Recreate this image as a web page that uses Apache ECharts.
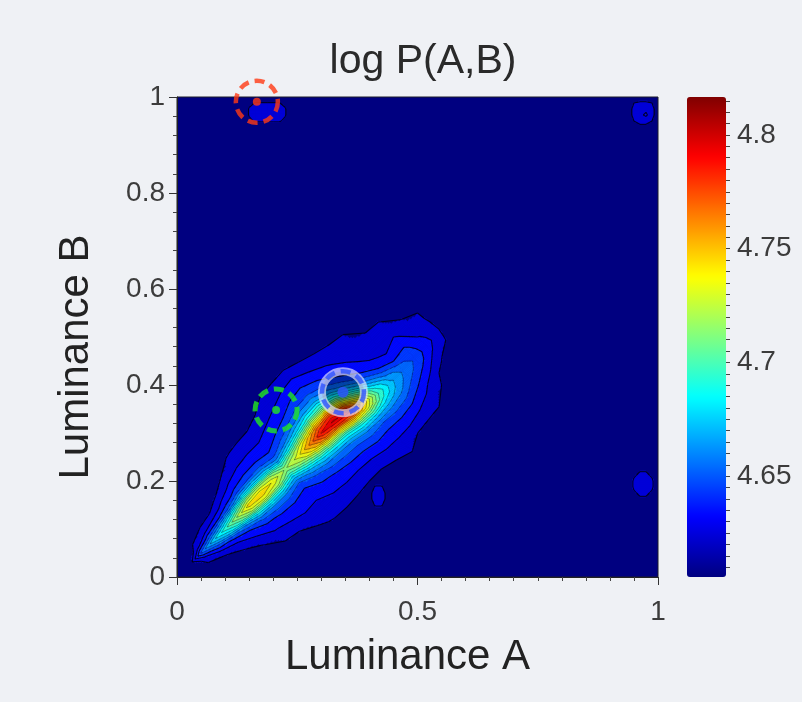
<!DOCTYPE html>
<html>
<head>
<meta charset="utf-8">
<title>log P(A,B)</title>
<script src="https://cdn.jsdelivr.net/npm/echarts@6/dist/echarts.min.js"></script>
<style>
  html, body { margin: 0; padding: 0; background: #eff1f5; }
  #chart { width: 802px; height: 702px; }
</style>
</head>
<body>
<div id="chart"></div>
<script>
// Joint log-density of luminance A and luminance B.
// The main ridge is sampled on a lattice that follows the diagonal:
// a = A + B runs along the ridge, d = B - A runs across it.
const FLOOR = 4.606;

// positions along the ridge (a = A + B)
const ridgeA = [0.05, 0.1, 0.15, 0.2, 0.25, 0.3, 0.35, 0.4, 0.45, 0.5, 0.55,
                0.6, 0.65, 0.7, 0.75, 0.8, 0.85, 0.9, 0.95, 1.0, 1.05, 1.1];
// offset of the ridge crest from the diagonal (in d) at each position
const ridgeOffset = [0, 0, 0, 0, 0, 0, 0, 0, 0, 0, 0,
                     0, 0, -0.01, -0.025, -0.035, -0.04, -0.04, -0.04, -0.04, -0.03, -0.02];
// offsets across the ridge, measured from the crest
const acrossD = [-0.3, -0.25, -0.2, -0.15, -0.11, -0.08, -0.055, -0.035, -0.018, 0,
                 0.018, 0.035, 0.055, 0.08, 0.11, 0.15, 0.2, 0.25, 0.3];
const F = FLOOR;
// log P at each (ridgeA[i], acrossD[j])
const ridgeProfiles = [
  [F,F,F,F,F,F,F,F,4.608,4.613,4.608,F,F,F,F,F,F,F,F],
  [F,F,F,F,F,F,F,4.626,4.632,4.655,4.630,4.624,F,F,F,F,F,F,F],
  [F,F,F,F,F,F,4.626,4.636,4.655,4.680,4.650,4.633,4.624,F,F,F,F,F,F],
  [F,F,F,F,F,4.627,4.634,4.648,4.678,4.700,4.670,4.642,4.629,4.616,F,F,F,F,F],
  [F,F,F,F,4.627,4.634,4.644,4.665,4.702,4.725,4.694,4.656,4.638,4.629,4.612,F,F,F,F],
  [F,F,F,4.624,4.633,4.642,4.657,4.688,4.728,4.750,4.720,4.678,4.649,4.636,4.628,F,F,F,F],
  [F,F,F,4.628,4.636,4.646,4.663,4.697,4.735,4.754,4.728,4.686,4.655,4.641,4.632,4.623,F,F,F],
  [F,F,4.621,4.631,4.638,4.647,4.664,4.694,4.727,4.742,4.722,4.682,4.656,4.642,4.634,4.626,F,F,F],
  [F,F,4.626,4.631,4.637,4.644,4.655,4.678,4.704,4.722,4.698,4.667,4.649,4.640,4.634,4.627,4.608,F,F],
  [F,4.608,4.627,4.634,4.642,4.652,4.671,4.700,4.724,4.738,4.721,4.690,4.663,4.648,4.638,4.630,4.618,F,F],
  [F,F,4.626,4.635,4.645,4.660,4.685,4.718,4.749,4.765,4.748,4.717,4.682,4.658,4.644,4.634,4.625,F,F],
  [F,F,4.624,4.635,4.648,4.663,4.692,4.734,4.774,4.795,4.776,4.742,4.700,4.670,4.651,4.638,4.627,F,F],
  [F,F,4.624,4.636,4.649,4.666,4.697,4.741,4.784,4.806,4.786,4.750,4.706,4.673,4.653,4.640,4.628,4.608,F],
  [F,F,4.625,4.636,4.649,4.666,4.697,4.740,4.779,4.800,4.780,4.742,4.700,4.669,4.650,4.637,4.626,F,F],
  [F,F,4.625,4.633,4.643,4.655,4.678,4.710,4.739,4.755,4.741,4.713,4.682,4.658,4.644,4.635,4.626,F,F],
  [F,F,4.611,4.630,4.640,4.652,4.666,4.682,4.697,4.705,4.696,4.679,4.660,4.645,4.637,4.631,4.625,F,F],
  [F,F,F,4.626,4.636,4.647,4.658,4.668,4.674,4.677,4.671,4.658,4.645,4.636,4.631,4.627,4.624,F,F],
  [F,F,F,4.624,4.631,4.638,4.647,4.654,4.659,4.662,4.657,4.646,4.637,4.632,4.628,4.626,4.611,F,F],
  [F,F,F,F,4.624,4.629,4.636,4.643,4.649,4.652,4.650,4.647,4.642,4.636,4.630,4.625,F,F,F],
  [F,F,F,F,F,4.616,4.626,4.630,4.635,4.638,4.637,4.635,4.631,4.628,4.625,F,F,F,F],
  [F,F,F,F,F,F,4.612,4.625,4.627,4.629,4.628,4.627,4.625,4.624,F,F,F,F,F],
  [F,F,F,F,F,F,F,F,F,F,F,F,F,F,F,F,F,F,F]
];

// small outlying islands, on a square lattice of step 0.0125: [A, B, log P]
const ISLAND_STEP = 0.0125;
const islandNodes = [
  // island under the red marker
  [0.1625, 0.9625, 4.632], [0.175, 0.9625, 4.632], [0.1875, 0.9625, 4.632], [0.2, 0.9625, 4.632], [0.2125, 0.9625, 4.632],
  [0.1625, 0.975, 4.632], [0.175, 0.975, 4.632], [0.1875, 0.975, 4.632], [0.2, 0.975, 4.632], [0.2125, 0.975, 4.632],
  [0.15, 0.9625, 4.626], [0.15, 0.975, 4.626], [0.225, 0.9625, 4.626], [0.225, 0.975, 4.626],
  [0.1625, 0.95, 4.627], [0.175, 0.95, 4.627], [0.1875, 0.95, 4.627], [0.2, 0.95, 4.627], [0.2125, 0.95, 4.627],
  [0.1625, 0.9875, 4.625], [0.175, 0.9875, 4.625], [0.1875, 0.9875, 4.625], [0.2, 0.9875, 4.625], [0.2125, 0.9875, 4.625],
  [0.15, 0.95, 4.618], [0.225, 0.95, 4.618], [0.15, 0.9875, 4.618], [0.225, 0.9875, 4.618],
  // top-right corner island
  [0.9625, 0.9625, 4.632], [0.975, 0.9625, 4.6356], [0.9625, 0.975, 4.632], [0.975, 0.975, 4.632],
  [0.95, 0.9625, 4.629], [0.95, 0.975, 4.629], [0.9875, 0.9625, 4.629], [0.9875, 0.975, 4.629],
  [0.9625, 0.95, 4.629], [0.975, 0.95, 4.629], [0.9625, 0.9875, 4.629], [0.975, 0.9875, 4.629],
  [0.95, 0.95, 4.624], [0.9875, 0.95, 4.624], [0.95, 0.9875, 4.624], [0.9875, 0.9875, 4.624],
  [0.9625, 0.9375, 4.620], [0.975, 0.9375, 4.620], [0.9375, 0.9625, 4.615], [0.9375, 0.975, 4.615],
  [1.0, 0.9625, 4.615], [1.0, 0.975, 4.615],
  // right-edge island
  [0.9625, 0.1875, 4.632], [0.975, 0.1875, 4.632], [0.9625, 0.2, 4.632], [0.975, 0.2, 4.632],
  [0.95, 0.1875, 4.628], [0.95, 0.2, 4.628], [0.9875, 0.1875, 4.628], [0.9875, 0.2, 4.628],
  [0.9625, 0.175, 4.629], [0.975, 0.175, 4.629], [0.9625, 0.2125, 4.629], [0.975, 0.2125, 4.629],
  [0.95, 0.175, 4.620], [0.9875, 0.175, 4.620], [0.95, 0.2125, 4.620], [0.9875, 0.2125, 4.620],
  [0.9625, 0.1625, 4.620], [0.975, 0.1625, 4.620], [0.9625, 0.225, 4.620], [0.975, 0.225, 4.620],
  // island beside the ridge
  [0.4125, 0.1625, 4.633], [0.425, 0.1625, 4.633], [0.4125, 0.175, 4.633], [0.425, 0.175, 4.633],
  [0.4125, 0.15, 4.628], [0.425, 0.15, 4.628], [0.4125, 0.1875, 4.628], [0.425, 0.1875, 4.628],
  [0.4, 0.1625, 4.618], [0.4, 0.175, 4.618], [0.4375, 0.1625, 4.618], [0.4375, 0.175, 4.618]
];

const colorMin = 4.6057;
const colorMax = 4.8167;
const firstLevel = 4.624;
const levelStep = 0.01;
const levelCount = 20;
const colorbarTicks = [4.65, 4.7, 4.75, 4.8];
const markerPoints = [[0.166, 0.99], [0.206, 0.348], [0.345, 0.385]];
const markerColors = ['#ff3a14', '#22e822', '#2e52ff'];

const FONT = 'Liberation Sans, Arial, Helvetica, sans-serif';

// ---- cells: four corner positions and values, corners ordered 00, 10, 11, 01 ----
const cells = [];
function pushCell(c, v) {
  if (Math.max(v[0], v[1], v[2], v[3]) < firstLevel) return;
  const cx = (c[0][0] + c[2][0]) / 2, cy = (c[0][1] + c[2][1]) / 2;
  cells.push([cx, cy, v[0], v[1], v[2], v[3],
              c[0][0], c[0][1], c[1][0], c[1][1], c[2][0], c[2][1], c[3][0], c[3][1]]);
}
function ridgeNode(i, j) {
  const d = ridgeOffset[i] + acrossD[j];
  return [(ridgeA[i] - d) / 2, (ridgeA[i] + d) / 2];
}
for (let i = 0; i < ridgeA.length - 1; i++) {
  for (let j = 0; j < acrossD.length - 1; j++) {
    pushCell(
      [ridgeNode(i, j), ridgeNode(i + 1, j), ridgeNode(i + 1, j + 1), ridgeNode(i, j + 1)],
      [ridgeProfiles[i][j], ridgeProfiles[i + 1][j], ridgeProfiles[i + 1][j + 1], ridgeProfiles[i][j + 1]]
    );
  }
}
const islandMap = new Map(islandNodes.map(([x, y, v]) =>
  [Math.round(x / ISLAND_STEP) + ',' + Math.round(y / ISLAND_STEP), v]));
function islandValue(i, j) {
  const k = i + ',' + j;
  return islandMap.has(k) ? islandMap.get(k) : FLOOR;
}
const islandCells = new Set();
islandNodes.forEach(([x, y]) => {
  const i = Math.round(x / ISLAND_STEP), j = Math.round(y / ISLAND_STEP);
  for (let di = -1; di <= 0; di++) for (let dj = -1; dj <= 0; dj++) islandCells.add((i + di) + ',' + (j + dj));
});
islandCells.forEach(key => {
  const [i, j] = key.split(',').map(Number);
  const s = ISLAND_STEP;
  pushCell(
    [[i * s, j * s], [(i + 1) * s, j * s], [(i + 1) * s, (j + 1) * s], [i * s, (j + 1) * s]],
    [islandValue(i, j), islandValue(i + 1, j), islandValue(i + 1, j + 1), islandValue(i, j + 1)]
  );
});

// ---- jet colour map and filled-contour bands ----
function clamp01(t) { return Math.max(0, Math.min(1, t)); }
function jet(f) {
  f = clamp01(f);
  const r = clamp01(1.5 - Math.abs(4 * f - 3));
  const g = clamp01(1.5 - Math.abs(4 * f - 2));
  const b = clamp01(1.5 - Math.abs(4 * f - 1));
  return 'rgb(' + Math.round(r * 255) + ',' + Math.round(g * 255) + ',' + Math.round(b * 255) + ')';
}
const jetStops = [0, 0.125, 0.25, 0.375, 0.5, 0.625, 0.75, 0.875, 1].map(jet);
const levels = [];
for (let k = 0; k < levelCount; k++) levels.push(+(firstLevel + k * levelStep).toFixed(4));
const bandColors = levels.map(L => jet((L - colorMin) / (colorMax - colorMin)));
function bandColor(v) {
  if (v < levels[0]) return null;
  let k = Math.floor((v - levels[0]) / levelStep + 1e-9);
  if (k > levels.length - 1) k = levels.length - 1;
  return bandColors[k];
}

function cellGeometry(api) {
  const P = [
    api.coord([api.value(6), api.value(7)]),
    api.coord([api.value(8), api.value(9)]),
    api.coord([api.value(10), api.value(11)]),
    api.coord([api.value(12), api.value(13)])
  ];
  const val = [api.value(2), api.value(3), api.value(4), api.value(5)];
  return { P, val };
}
function quadPoint(P, u, v) {
  return [
    (1 - u) * (1 - v) * P[0][0] + u * (1 - v) * P[1][0] + u * v * P[2][0] + (1 - u) * v * P[3][0],
    (1 - u) * (1 - v) * P[0][1] + u * (1 - v) * P[1][1] + u * v * P[2][1] + (1 - u) * v * P[3][1]
  ];
}
function dist(p, q) { return Math.hypot(p[0] - q[0], p[1] - q[1]); }

function renderField(params, api) {
  const { P, val } = cellGeometry(api);
  const SU = Math.max(1, Math.ceil(Math.max(dist(P[0], P[1]), dist(P[3], P[2])) / 2));
  const SV = Math.max(1, Math.ceil(Math.max(dist(P[0], P[3]), dist(P[1], P[2])) / 2));
  const children = [];
  for (let sv = 0; sv < SV; sv++) {
    const v0 = sv / SV, v1 = (sv + 1) / SV, vm = (sv + 0.5) / SV;
    let runStart = 0, runColor = null;
    for (let su = 0; su <= SU; su++) {
      let col = null;
      if (su < SU) {
        const um = (su + 0.5) / SU;
        const z = (1 - um) * (1 - vm) * val[0] + um * (1 - vm) * val[1] + um * vm * val[2] + (1 - um) * vm * val[3];
        col = bandColor(z);
      }
      if (su === SU || col !== runColor) {
        if (runColor) {
          const u0 = runStart / SU, u1 = su / SU;
          children.push({
            type: 'polygon',
            shape: { points: [quadPoint(P, u0, v0), quadPoint(P, u1, v0), quadPoint(P, u1, v1), quadPoint(P, u0, v1)] },
            style: { fill: runColor, stroke: runColor, lineWidth: 0.6 }
          });
        }
        runStart = su;
        runColor = col;
      }
    }
  }
  return { type: 'group', silent: true, children: children };
}

// marching squares: isolines of each level inside one cell
const outerLine = { stroke: 'rgba(0,0,0,0.8)', lineWidth: 1.1 };
const innerLine = { stroke: 'rgba(0,0,0,0.42)', lineWidth: 0.8 };
function renderContours(params, api) {
  const { P, val } = cellGeometry(api);
  const children = [];
  levels.forEach((L, li) => {
    const style = li < 3 ? outerLine : innerLine;
    const above = val.map(x => x >= L);
    const cross = [null, null, null, null];
    const hit = [];
    for (let e = 0; e < 4; e++) {
      const p = e, q = (e + 1) % 4;
      if (above[p] !== above[q]) {
        const t = (L - val[p]) / (val[q] - val[p]);
        cross[e] = [P[p][0] + t * (P[q][0] - P[p][0]), P[p][1] + t * (P[q][1] - P[p][1])];
        hit.push(e);
      }
    }
    const seg = (p, q) => children.push({ type: 'line', shape: { x1: p[0], y1: p[1], x2: q[0], y2: q[1] }, style: style });
    if (hit.length === 2) {
      seg(cross[hit[0]], cross[hit[1]]);
    } else if (hit.length === 4) {
      const centerAbove = (val[0] + val[1] + val[2] + val[3]) / 4 >= L;
      for (let k = 0; k < 4; k++) if (above[k] !== centerAbove) seg(cross[k], cross[(k + 3) % 4]);
    }
  });
  return { type: 'group', silent: true, children: children };
}

// minor ticks of the colour bar
const colorbarMinor = [];
for (let t = 4.61; t < colorMax; t += 0.005) colorbarMinor.push(+t.toFixed(3));

const chart = echarts.init(document.getElementById('chart'), null, { renderer: 'canvas' });
const option = {
  backgroundColor: '#eff1f5',
  animation: false,
  textStyle: { fontFamily: FONT },
  title: {
    text: 'log P(A,B)',
    left: 418,
    top: 36,
    textAlign: 'center',
    textStyle: { fontFamily: FONT, fontSize: 41, fontWeight: 'normal', color: '#2a2a2a' }
  },
  grid: [
    { left: 177, top: 97, width: 481, height: 480, show: true, backgroundColor: jet(0), borderColor: '#1c1c2a', borderWidth: 1 },
    { left: 687, top: 97, width: 39, height: 480, show: false }
  ],
  xAxis: [
    {
      gridIndex: 0, type: 'value', min: 0, max: 1, interval: 0.5,
      name: 'Luminance A', nameLocation: 'middle', nameGap: 59,
      nameTextStyle: { fontFamily: FONT, fontSize: 42, color: '#222', padding: [0, 20, 0, 0] },
      axisLine: { show: true, onZero: false, lineStyle: { color: '#222', width: 1 } },
      axisTick: { show: true, inside: false, length: 8, lineStyle: { color: '#333' } },
      minorTick: { show: true, splitNumber: 10, length: 4, lineStyle: { color: '#444' } },
      splitLine: { show: false },
      axisLabel: { fontFamily: FONT, fontSize: 28, color: '#3c3c3c', margin: 21 }
    },
    { gridIndex: 1, type: 'value', min: 0, max: 1, show: false }
  ],
  yAxis: [
    {
      gridIndex: 0, type: 'value', min: 0, max: 1, interval: 0.2,
      name: 'Luminance B', nameLocation: 'middle', nameGap: 80, nameRotate: 90,
      nameTextStyle: { fontFamily: FONT, fontSize: 42, color: '#222', padding: [0, 40, 0, 0] },
      axisLine: { show: true, onZero: false, lineStyle: { color: '#222', width: 1 } },
      axisTick: { show: true, inside: false, length: 8, lineStyle: { color: '#333' } },
      minorTick: { show: true, splitNumber: 5, length: 4, lineStyle: { color: '#444' } },
      splitLine: { show: false },
      axisLabel: { fontFamily: FONT, fontSize: 28, color: '#3c3c3c', margin: 12 }
    },
    {
      gridIndex: 1, type: 'value', min: colorMin, max: colorMax, position: 'right',
      axisLine: { show: false },
      axisTick: { show: true, inside: false, length: 7, customValues: colorbarTicks, lineStyle: { color: '#333' } },
      axisLabel: { show: true, customValues: colorbarTicks, fontFamily: FONT, fontSize: 28, color: '#3c3c3c', margin: 11 },
      splitLine: { show: false }
    },
    {
      gridIndex: 1, type: 'value', min: colorMin, max: colorMax, position: 'right',
      axisLine: { show: false },
      axisTick: { show: true, inside: false, length: 4, customValues: colorbarMinor, lineStyle: { color: '#444' } },
      axisLabel: { show: false },
      splitLine: { show: false }
    }
  ],
  visualMap: {
    type: 'continuous',
    min: colorMin, max: colorMax,
    left: 687, top: 97,
    itemWidth: 39, itemHeight: 480,
    padding: 0,
    calculable: false,
    seriesIndex: 0,
    dimension: 2,
    inRange: { color: jetStops }
  },
  series: [
    {
      name: 'log P(A,B)', type: 'custom', xAxisIndex: 0, yAxisIndex: 0,
      renderItem: renderField, data: cells, encode: { x: 0, y: 1 }, silent: true, z: 1
    },
    {
      name: 'contours', type: 'custom', xAxisIndex: 0, yAxisIndex: 0,
      renderItem: renderContours, data: cells, encode: { x: 0, y: 1 }, silent: true, z: 2
    },
    {
      name: 'halo', type: 'scatter', xAxisIndex: 0, yAxisIndex: 0, clip: false, silent: true, z: 3,
      symbol: 'circle', symbolSize: 42,
      data: [{ value: markerPoints[2] }],
      itemStyle: { color: 'rgba(0,0,0,0.42)', borderColor: 'rgba(228,228,255,0.85)', borderWidth: 8 }
    },
    {
      name: 'rings', type: 'scatter', xAxisIndex: 0, yAxisIndex: 0, clip: false, silent: true, z: 4,
      symbol: 'circle', symbolSize: 42,
      data: markerPoints.map((p, k) => ({
        value: p,
        itemStyle: { borderColor: markerColors[k], borderWidth: k === 1 ? 5 : 4.5 }
      })),
      itemStyle: { color: 'rgba(0,0,0,0)', borderType: [10, 6] }
    },
    {
      name: 'centres', type: 'scatter', xAxisIndex: 0, yAxisIndex: 0, clip: false, silent: true, z: 5,
      symbol: 'circle',
      data: markerPoints.map((p, k) => ({
        value: p,
        symbolSize: k === 2 ? 11 : 8,
        itemStyle: { color: markerColors[k] }
      }))
    }
  ]
};
chart.setOption(option);
</script>
</body>
</html>
